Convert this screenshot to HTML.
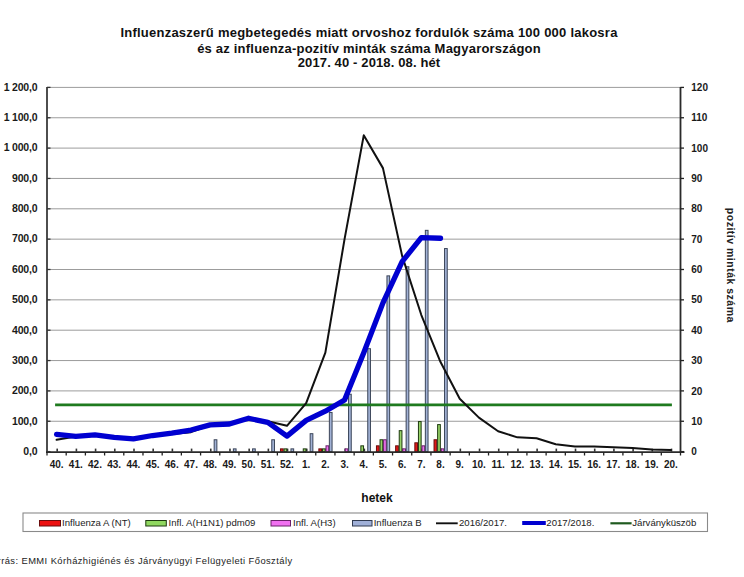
<!DOCTYPE html>
<html><head><meta charset="utf-8"><style>
html,body{margin:0;padding:0;background:#fff;}
body{width:744px;height:577px;overflow:hidden;position:relative;}
#wrap{position:absolute;left:0;top:0;width:744px;height:577px;}
svg{display:block;}
text{font-family:"Liberation Sans",sans-serif;}
.lab{font-size:10px;font-weight:bold;fill:#1a1a1a;}
.ttl{font-size:13px;font-weight:bold;fill:#111;}
.leg{font-size:9.6px;fill:#222;}
</style></head><body>
<div id="wrap"><svg width="744" height="577" viewBox="0 0 744 577">
<text x="369" y="36.9" text-anchor="middle" class="ttl" style="letter-spacing:0.24px">Influenzaszerű megbetegedés miatt orvoshoz fordulók száma 100 000 lakosra</text>
<text x="369" y="52.5" text-anchor="middle" class="ttl" style="letter-spacing:0.21px">és az influenza-pozitív minták száma Magyarországon</text>
<text x="369" y="67.2" text-anchor="middle" class="ttl" style="letter-spacing:0.13px">2017. 40 - 2018. 08. hét</text>
<line x1="47.0" y1="421.25" x2="680.5" y2="421.25" stroke="#9c9c9c" stroke-width="1"/>
<line x1="47.0" y1="390.90" x2="680.5" y2="390.90" stroke="#9c9c9c" stroke-width="1"/>
<line x1="47.0" y1="360.55" x2="680.5" y2="360.55" stroke="#9c9c9c" stroke-width="1"/>
<line x1="47.0" y1="330.20" x2="680.5" y2="330.20" stroke="#9c9c9c" stroke-width="1"/>
<line x1="47.0" y1="299.85" x2="680.5" y2="299.85" stroke="#9c9c9c" stroke-width="1"/>
<line x1="47.0" y1="269.50" x2="680.5" y2="269.50" stroke="#9c9c9c" stroke-width="1"/>
<line x1="47.0" y1="239.15" x2="680.5" y2="239.15" stroke="#9c9c9c" stroke-width="1"/>
<line x1="47.0" y1="208.80" x2="680.5" y2="208.80" stroke="#9c9c9c" stroke-width="1"/>
<line x1="47.0" y1="178.45" x2="680.5" y2="178.45" stroke="#9c9c9c" stroke-width="1"/>
<line x1="47.0" y1="148.10" x2="680.5" y2="148.10" stroke="#9c9c9c" stroke-width="1"/>
<line x1="47.0" y1="117.75" x2="680.5" y2="117.75" stroke="#9c9c9c" stroke-width="1"/>
<line x1="47.0" y1="87.40" x2="680.5" y2="87.40" stroke="#9c9c9c" stroke-width="1"/>
<rect x="56.40" y="448.60" width="1.6" height="3" fill="#333"/>
<rect x="75.60" y="448.60" width="1.6" height="3" fill="#333"/>
<rect x="94.79" y="448.60" width="1.6" height="3" fill="#333"/>
<rect x="113.99" y="448.60" width="1.6" height="3" fill="#333"/>
<rect x="133.19" y="448.60" width="1.6" height="3" fill="#333"/>
<rect x="152.38" y="448.60" width="1.6" height="3" fill="#333"/>
<rect x="171.58" y="448.60" width="1.6" height="3" fill="#333"/>
<rect x="190.78" y="448.60" width="1.6" height="3" fill="#333"/>
<rect x="209.97" y="448.60" width="1.6" height="3" fill="#333"/>
<rect x="229.17" y="448.60" width="1.6" height="3" fill="#333"/>
<rect x="248.37" y="448.60" width="1.6" height="3" fill="#333"/>
<rect x="267.57" y="448.60" width="1.6" height="3" fill="#333"/>
<rect x="286.76" y="448.60" width="1.6" height="3" fill="#333"/>
<rect x="305.96" y="448.60" width="1.6" height="3" fill="#333"/>
<rect x="325.16" y="448.60" width="1.6" height="3" fill="#333"/>
<rect x="344.35" y="448.60" width="1.6" height="3" fill="#333"/>
<rect x="363.55" y="448.60" width="1.6" height="3" fill="#333"/>
<rect x="382.75" y="448.60" width="1.6" height="3" fill="#333"/>
<rect x="401.94" y="448.60" width="1.6" height="3" fill="#333"/>
<rect x="421.14" y="448.60" width="1.6" height="3" fill="#333"/>
<rect x="440.34" y="448.60" width="1.6" height="3" fill="#333"/>
<rect x="459.53" y="448.60" width="1.6" height="3" fill="#333"/>
<rect x="478.73" y="448.60" width="1.6" height="3" fill="#333"/>
<rect x="497.93" y="448.60" width="1.6" height="3" fill="#333"/>
<rect x="517.13" y="448.60" width="1.6" height="3" fill="#333"/>
<rect x="536.32" y="448.60" width="1.6" height="3" fill="#333"/>
<rect x="555.52" y="448.60" width="1.6" height="3" fill="#333"/>
<rect x="574.72" y="448.60" width="1.6" height="3" fill="#333"/>
<rect x="593.91" y="448.60" width="1.6" height="3" fill="#333"/>
<rect x="613.11" y="448.60" width="1.6" height="3" fill="#333"/>
<rect x="632.31" y="448.60" width="1.6" height="3" fill="#333"/>
<rect x="651.50" y="448.60" width="1.6" height="3" fill="#333"/>
<rect x="670.70" y="448.60" width="1.6" height="3" fill="#333"/>
<rect x="280.46" y="448.87" width="2.70" height="2.83" fill="#e01818" stroke="#6a0c0c" stroke-width="1"/>
<rect x="318.86" y="448.87" width="2.70" height="2.83" fill="#e01818" stroke="#6a0c0c" stroke-width="1"/>
<rect x="376.45" y="445.83" width="2.70" height="5.87" fill="#e01818" stroke="#6a0c0c" stroke-width="1"/>
<rect x="395.64" y="445.83" width="2.70" height="5.87" fill="#e01818" stroke="#6a0c0c" stroke-width="1"/>
<rect x="414.84" y="442.80" width="2.70" height="8.90" fill="#e01818" stroke="#6a0c0c" stroke-width="1"/>
<rect x="434.04" y="439.76" width="2.70" height="11.94" fill="#e01818" stroke="#6a0c0c" stroke-width="1"/>
<rect x="284.06" y="448.87" width="2.70" height="2.83" fill="#98d468" stroke="#1e3a10" stroke-width="1"/>
<rect x="303.26" y="448.87" width="2.70" height="2.83" fill="#98d468" stroke="#1e3a10" stroke-width="1"/>
<rect x="322.46" y="448.87" width="2.70" height="2.83" fill="#98d468" stroke="#1e3a10" stroke-width="1"/>
<rect x="360.85" y="445.83" width="2.70" height="5.87" fill="#98d468" stroke="#1e3a10" stroke-width="1"/>
<rect x="380.05" y="439.76" width="2.70" height="11.94" fill="#98d468" stroke="#1e3a10" stroke-width="1"/>
<rect x="399.24" y="430.66" width="2.70" height="21.04" fill="#98d468" stroke="#1e3a10" stroke-width="1"/>
<rect x="418.44" y="421.55" width="2.70" height="30.15" fill="#98d468" stroke="#1e3a10" stroke-width="1"/>
<rect x="437.64" y="424.59" width="2.70" height="27.11" fill="#98d468" stroke="#1e3a10" stroke-width="1"/>
<rect x="326.01" y="445.83" width="2.70" height="5.87" fill="#ee74ee" stroke="#6a206a" stroke-width="1"/>
<rect x="345.20" y="448.87" width="2.70" height="2.83" fill="#ee74ee" stroke="#6a206a" stroke-width="1"/>
<rect x="383.60" y="439.76" width="2.70" height="11.94" fill="#ee74ee" stroke="#6a206a" stroke-width="1"/>
<rect x="402.79" y="448.87" width="2.70" height="2.83" fill="#ee74ee" stroke="#6a206a" stroke-width="1"/>
<rect x="421.99" y="445.83" width="2.70" height="5.87" fill="#ee74ee" stroke="#6a206a" stroke-width="1"/>
<rect x="441.19" y="448.87" width="2.70" height="2.83" fill="#ee74ee" stroke="#6a206a" stroke-width="1"/>
<rect x="214.17" y="439.76" width="2.70" height="11.94" fill="#a2b2d6" stroke="#3a4458" stroke-width="1"/>
<rect x="233.37" y="448.87" width="2.70" height="2.83" fill="#a2b2d6" stroke="#3a4458" stroke-width="1"/>
<rect x="252.57" y="448.87" width="2.70" height="2.83" fill="#a2b2d6" stroke="#3a4458" stroke-width="1"/>
<rect x="271.77" y="439.76" width="2.70" height="11.94" fill="#a2b2d6" stroke="#3a4458" stroke-width="1"/>
<rect x="290.96" y="448.87" width="2.70" height="2.83" fill="#a2b2d6" stroke="#3a4458" stroke-width="1"/>
<rect x="310.16" y="433.69" width="2.70" height="18.01" fill="#a2b2d6" stroke="#3a4458" stroke-width="1"/>
<rect x="329.36" y="412.45" width="2.70" height="39.25" fill="#a2b2d6" stroke="#3a4458" stroke-width="1"/>
<rect x="348.55" y="394.24" width="2.70" height="57.46" fill="#a2b2d6" stroke="#3a4458" stroke-width="1"/>
<rect x="367.75" y="348.71" width="2.70" height="102.99" fill="#a2b2d6" stroke="#3a4458" stroke-width="1"/>
<rect x="386.95" y="275.87" width="2.70" height="175.83" fill="#a2b2d6" stroke="#3a4458" stroke-width="1"/>
<rect x="406.14" y="266.76" width="2.70" height="184.94" fill="#a2b2d6" stroke="#3a4458" stroke-width="1"/>
<rect x="425.34" y="230.34" width="2.70" height="221.35" fill="#a2b2d6" stroke="#3a4458" stroke-width="1"/>
<rect x="444.54" y="248.56" width="2.70" height="203.14" fill="#a2b2d6" stroke="#3a4458" stroke-width="1"/>
<line x1="55.10" y1="404.86" x2="671.90" y2="404.86" stroke="#1f7a1f" stroke-width="2.6"/>
<polyline points="56.60,439.76 75.80,436.43 94.99,434.91 114.19,437.34 133.39,439.46 152.58,435.82 171.78,434.00 190.98,432.18 210.17,425.20 229.37,423.98 248.57,418.82 267.77,421.25 286.96,425.80 306.16,403.04 325.36,352.66 344.55,239.15 363.75,135.35 382.95,168.13 402.14,255.84 421.34,315.02 440.54,362.07 459.73,398.79 478.93,417.61 498.13,431.27 517.33,437.34 536.52,438.25 555.72,444.32 574.92,446.44 594.11,446.44 613.31,447.35 632.51,447.96 651.70,449.48 670.90,450.08" fill="none" stroke="#111" stroke-width="2" stroke-linejoin="round" stroke-linecap="round"/>
<polyline points="56.60,434.30 75.80,436.43 94.99,434.91 114.19,437.34 133.39,438.85 152.58,435.51 171.78,433.09 190.98,430.05 210.17,424.89 229.37,423.98 248.57,418.22 267.77,422.46 286.96,436.12 306.16,420.34 325.36,411.23 344.55,400.00 363.75,352.66 382.95,302.88 402.14,261.61 421.34,237.63 440.54,238.24" fill="none" stroke="#0000d0" stroke-width="5.3" stroke-linejoin="round" stroke-linecap="round"/>
<line x1="47.0" y1="86.9" x2="47.0" y2="452.6" stroke="#3a3a3a" stroke-width="1.8"/>
<line x1="680.5" y1="86.9" x2="680.5" y2="452.6" stroke="#2a2a2a" stroke-width="1.8"/>
<line x1="46.0" y1="452.2" x2="684.5" y2="452.2" stroke="#2a2a2a" stroke-width="1.7"/>
<line x1="47.0" y1="451.60" x2="50.5" y2="451.60" stroke="#333" stroke-width="1.3"/>
<line x1="680.5" y1="451.60" x2="684.0" y2="451.60" stroke="#222" stroke-width="1.3"/>
<line x1="47.0" y1="421.25" x2="50.5" y2="421.25" stroke="#333" stroke-width="1.3"/>
<line x1="680.5" y1="421.25" x2="684.0" y2="421.25" stroke="#222" stroke-width="1.3"/>
<line x1="47.0" y1="390.90" x2="50.5" y2="390.90" stroke="#333" stroke-width="1.3"/>
<line x1="680.5" y1="390.90" x2="684.0" y2="390.90" stroke="#222" stroke-width="1.3"/>
<line x1="47.0" y1="360.55" x2="50.5" y2="360.55" stroke="#333" stroke-width="1.3"/>
<line x1="680.5" y1="360.55" x2="684.0" y2="360.55" stroke="#222" stroke-width="1.3"/>
<line x1="47.0" y1="330.20" x2="50.5" y2="330.20" stroke="#333" stroke-width="1.3"/>
<line x1="680.5" y1="330.20" x2="684.0" y2="330.20" stroke="#222" stroke-width="1.3"/>
<line x1="47.0" y1="299.85" x2="50.5" y2="299.85" stroke="#333" stroke-width="1.3"/>
<line x1="680.5" y1="299.85" x2="684.0" y2="299.85" stroke="#222" stroke-width="1.3"/>
<line x1="47.0" y1="269.50" x2="50.5" y2="269.50" stroke="#333" stroke-width="1.3"/>
<line x1="680.5" y1="269.50" x2="684.0" y2="269.50" stroke="#222" stroke-width="1.3"/>
<line x1="47.0" y1="239.15" x2="50.5" y2="239.15" stroke="#333" stroke-width="1.3"/>
<line x1="680.5" y1="239.15" x2="684.0" y2="239.15" stroke="#222" stroke-width="1.3"/>
<line x1="47.0" y1="208.80" x2="50.5" y2="208.80" stroke="#333" stroke-width="1.3"/>
<line x1="680.5" y1="208.80" x2="684.0" y2="208.80" stroke="#222" stroke-width="1.3"/>
<line x1="47.0" y1="178.45" x2="50.5" y2="178.45" stroke="#333" stroke-width="1.3"/>
<line x1="680.5" y1="178.45" x2="684.0" y2="178.45" stroke="#222" stroke-width="1.3"/>
<line x1="47.0" y1="148.10" x2="50.5" y2="148.10" stroke="#333" stroke-width="1.3"/>
<line x1="680.5" y1="148.10" x2="684.0" y2="148.10" stroke="#222" stroke-width="1.3"/>
<line x1="47.0" y1="117.75" x2="50.5" y2="117.75" stroke="#333" stroke-width="1.3"/>
<line x1="680.5" y1="117.75" x2="684.0" y2="117.75" stroke="#222" stroke-width="1.3"/>
<line x1="47.0" y1="87.40" x2="50.5" y2="87.40" stroke="#333" stroke-width="1.3"/>
<line x1="680.5" y1="87.40" x2="684.0" y2="87.40" stroke="#222" stroke-width="1.3"/>
<line x1="47.00" y1="452.2" x2="47.00" y2="455.5" stroke="#222" stroke-width="1.3"/>
<line x1="66.20" y1="452.2" x2="66.20" y2="455.5" stroke="#222" stroke-width="1.3"/>
<line x1="85.39" y1="452.2" x2="85.39" y2="455.5" stroke="#222" stroke-width="1.3"/>
<line x1="104.59" y1="452.2" x2="104.59" y2="455.5" stroke="#222" stroke-width="1.3"/>
<line x1="123.79" y1="452.2" x2="123.79" y2="455.5" stroke="#222" stroke-width="1.3"/>
<line x1="142.98" y1="452.2" x2="142.98" y2="455.5" stroke="#222" stroke-width="1.3"/>
<line x1="162.18" y1="452.2" x2="162.18" y2="455.5" stroke="#222" stroke-width="1.3"/>
<line x1="181.38" y1="452.2" x2="181.38" y2="455.5" stroke="#222" stroke-width="1.3"/>
<line x1="200.58" y1="452.2" x2="200.58" y2="455.5" stroke="#222" stroke-width="1.3"/>
<line x1="219.77" y1="452.2" x2="219.77" y2="455.5" stroke="#222" stroke-width="1.3"/>
<line x1="238.97" y1="452.2" x2="238.97" y2="455.5" stroke="#222" stroke-width="1.3"/>
<line x1="258.17" y1="452.2" x2="258.17" y2="455.5" stroke="#222" stroke-width="1.3"/>
<line x1="277.36" y1="452.2" x2="277.36" y2="455.5" stroke="#222" stroke-width="1.3"/>
<line x1="296.56" y1="452.2" x2="296.56" y2="455.5" stroke="#222" stroke-width="1.3"/>
<line x1="315.76" y1="452.2" x2="315.76" y2="455.5" stroke="#222" stroke-width="1.3"/>
<line x1="334.95" y1="452.2" x2="334.95" y2="455.5" stroke="#222" stroke-width="1.3"/>
<line x1="354.15" y1="452.2" x2="354.15" y2="455.5" stroke="#222" stroke-width="1.3"/>
<line x1="373.35" y1="452.2" x2="373.35" y2="455.5" stroke="#222" stroke-width="1.3"/>
<line x1="392.55" y1="452.2" x2="392.55" y2="455.5" stroke="#222" stroke-width="1.3"/>
<line x1="411.74" y1="452.2" x2="411.74" y2="455.5" stroke="#222" stroke-width="1.3"/>
<line x1="430.94" y1="452.2" x2="430.94" y2="455.5" stroke="#222" stroke-width="1.3"/>
<line x1="450.14" y1="452.2" x2="450.14" y2="455.5" stroke="#222" stroke-width="1.3"/>
<line x1="469.33" y1="452.2" x2="469.33" y2="455.5" stroke="#222" stroke-width="1.3"/>
<line x1="488.53" y1="452.2" x2="488.53" y2="455.5" stroke="#222" stroke-width="1.3"/>
<line x1="507.73" y1="452.2" x2="507.73" y2="455.5" stroke="#222" stroke-width="1.3"/>
<line x1="526.92" y1="452.2" x2="526.92" y2="455.5" stroke="#222" stroke-width="1.3"/>
<line x1="546.12" y1="452.2" x2="546.12" y2="455.5" stroke="#222" stroke-width="1.3"/>
<line x1="565.32" y1="452.2" x2="565.32" y2="455.5" stroke="#222" stroke-width="1.3"/>
<line x1="584.52" y1="452.2" x2="584.52" y2="455.5" stroke="#222" stroke-width="1.3"/>
<line x1="603.71" y1="452.2" x2="603.71" y2="455.5" stroke="#222" stroke-width="1.3"/>
<line x1="622.91" y1="452.2" x2="622.91" y2="455.5" stroke="#222" stroke-width="1.3"/>
<line x1="642.11" y1="452.2" x2="642.11" y2="455.5" stroke="#222" stroke-width="1.3"/>
<line x1="661.30" y1="452.2" x2="661.30" y2="455.5" stroke="#222" stroke-width="1.3"/>
<line x1="680.50" y1="452.2" x2="680.50" y2="455.5" stroke="#222" stroke-width="1.3"/>
<text x="37.3" y="454.90" text-anchor="end" class="lab" style="font-size:10.5px;letter-spacing:-0.2px">0,0</text>
<text x="37.3" y="424.55" text-anchor="end" class="lab" style="font-size:10.5px;letter-spacing:-0.2px">100,0</text>
<text x="37.3" y="394.20" text-anchor="end" class="lab" style="font-size:10.5px;letter-spacing:-0.2px">200,0</text>
<text x="37.3" y="363.85" text-anchor="end" class="lab" style="font-size:10.5px;letter-spacing:-0.2px">300,0</text>
<text x="37.3" y="333.50" text-anchor="end" class="lab" style="font-size:10.5px;letter-spacing:-0.2px">400,0</text>
<text x="37.3" y="303.15" text-anchor="end" class="lab" style="font-size:10.5px;letter-spacing:-0.2px">500,0</text>
<text x="37.3" y="272.80" text-anchor="end" class="lab" style="font-size:10.5px;letter-spacing:-0.2px">600,0</text>
<text x="37.3" y="242.45" text-anchor="end" class="lab" style="font-size:10.5px;letter-spacing:-0.2px">700,0</text>
<text x="37.3" y="212.10" text-anchor="end" class="lab" style="font-size:10.5px;letter-spacing:-0.2px">800,0</text>
<text x="37.3" y="181.75" text-anchor="end" class="lab" style="font-size:10.5px;letter-spacing:-0.2px">900,0</text>
<text x="37.3" y="151.40" text-anchor="end" class="lab" style="font-size:10.5px;letter-spacing:-0.2px">1 000,0</text>
<text x="37.3" y="121.05" text-anchor="end" class="lab" style="font-size:10.5px;letter-spacing:-0.2px">1 100,0</text>
<text x="37.3" y="90.70" text-anchor="end" class="lab" style="font-size:10.5px;letter-spacing:-0.2px">1 200,0</text>
<text x="691.3" y="455.20" class="lab" style="font-size:10px">0</text>
<text x="691.3" y="424.85" class="lab" style="font-size:10px">10</text>
<text x="691.3" y="394.50" class="lab" style="font-size:10px">20</text>
<text x="691.3" y="364.15" class="lab" style="font-size:10px">30</text>
<text x="691.3" y="333.80" class="lab" style="font-size:10px">40</text>
<text x="691.3" y="303.45" class="lab" style="font-size:10px">50</text>
<text x="691.3" y="273.10" class="lab" style="font-size:10px">60</text>
<text x="691.3" y="242.75" class="lab" style="font-size:10px">70</text>
<text x="691.3" y="212.40" class="lab" style="font-size:10px">80</text>
<text x="691.3" y="182.05" class="lab" style="font-size:10px">90</text>
<text x="691.3" y="151.70" class="lab" style="font-size:10px">100</text>
<text x="691.3" y="121.35" class="lab" style="font-size:10px">110</text>
<text x="691.3" y="91.00" class="lab" style="font-size:10px">120</text>
<text x="56.60" y="468.3" text-anchor="middle" class="lab">40.</text>
<text x="75.80" y="468.3" text-anchor="middle" class="lab">41.</text>
<text x="94.99" y="468.3" text-anchor="middle" class="lab">42.</text>
<text x="114.19" y="468.3" text-anchor="middle" class="lab">43.</text>
<text x="133.39" y="468.3" text-anchor="middle" class="lab">44.</text>
<text x="152.58" y="468.3" text-anchor="middle" class="lab">45.</text>
<text x="171.78" y="468.3" text-anchor="middle" class="lab">46.</text>
<text x="190.98" y="468.3" text-anchor="middle" class="lab">47.</text>
<text x="210.17" y="468.3" text-anchor="middle" class="lab">48.</text>
<text x="229.37" y="468.3" text-anchor="middle" class="lab">49.</text>
<text x="248.57" y="468.3" text-anchor="middle" class="lab">50.</text>
<text x="267.77" y="468.3" text-anchor="middle" class="lab">51.</text>
<text x="286.96" y="468.3" text-anchor="middle" class="lab">52.</text>
<text x="306.16" y="468.3" text-anchor="middle" class="lab">1.</text>
<text x="325.36" y="468.3" text-anchor="middle" class="lab">2.</text>
<text x="344.55" y="468.3" text-anchor="middle" class="lab">3.</text>
<text x="363.75" y="468.3" text-anchor="middle" class="lab">4.</text>
<text x="382.95" y="468.3" text-anchor="middle" class="lab">5.</text>
<text x="402.14" y="468.3" text-anchor="middle" class="lab">6.</text>
<text x="421.34" y="468.3" text-anchor="middle" class="lab">7.</text>
<text x="440.54" y="468.3" text-anchor="middle" class="lab">8.</text>
<text x="459.73" y="468.3" text-anchor="middle" class="lab">9.</text>
<text x="478.93" y="468.3" text-anchor="middle" class="lab">10.</text>
<text x="498.13" y="468.3" text-anchor="middle" class="lab">11.</text>
<text x="517.33" y="468.3" text-anchor="middle" class="lab">12.</text>
<text x="536.52" y="468.3" text-anchor="middle" class="lab">13.</text>
<text x="555.72" y="468.3" text-anchor="middle" class="lab">14.</text>
<text x="574.92" y="468.3" text-anchor="middle" class="lab">15.</text>
<text x="594.11" y="468.3" text-anchor="middle" class="lab">16.</text>
<text x="613.31" y="468.3" text-anchor="middle" class="lab">17.</text>
<text x="632.51" y="468.3" text-anchor="middle" class="lab">18.</text>
<text x="651.70" y="468.3" text-anchor="middle" class="lab">19.</text>
<text x="670.90" y="468.3" text-anchor="middle" class="lab">20.</text>
<text x="377" y="501.5" text-anchor="middle" style="font-size:12px;font-weight:bold;fill:#111">hetek</text>
<text transform="translate(726.7,207.8) rotate(90)" style="font-size:10.5px;font-weight:bold;letter-spacing:0.5px;fill:#222">pozitív minták száma</text>
<rect x="23" y="513" width="684.5" height="18.5" fill="#fff" stroke="#8a8a8a" stroke-width="1.1"/>
<rect x="39.5" y="520.5" width="21" height="5.5" fill="#ec1010" stroke="#6a0c0c" stroke-width="1"/>
<text x="62" y="526.3" class="leg">Influenza A (NT)</text>
<rect x="145.8" y="520.5" width="20.5" height="5.5" fill="#90d860" stroke="#1e3a10" stroke-width="1"/>
<text x="168.5" y="526.3" class="leg">Infl. A(H1N1) pdm09</text>
<rect x="271" y="520.5" width="19.5" height="5.5" fill="#f070f0" stroke="#6a206a" stroke-width="1"/>
<text x="293" y="526.3" class="leg">Infl. A(H3)</text>
<rect x="352.5" y="520.5" width="19.5" height="5.5" fill="#a0b0d8" stroke="#303a50" stroke-width="1"/>
<text x="373.7" y="526.3" class="leg">Influenza B</text>
<line x1="436" y1="523.3" x2="457.7" y2="523.3" stroke="#111" stroke-width="1.9"/>
<text x="459" y="526.3" class="leg">2016/2017.</text>
<line x1="522.2" y1="523" x2="545.8" y2="523" stroke="#0000d0" stroke-width="4"/>
<text x="546.3" y="526.3" class="leg">2017/2018.</text>
<line x1="610.4" y1="523.3" x2="631.6" y2="523.3" stroke="#1f5a1f" stroke-width="2.2"/>
<text x="632.3" y="526.3" class="leg">Járványküszöb</text>
<text x="-14.2" y="563.9" style="font-size:9.4px;letter-spacing:0.42px;fill:#222">Forrás: EMMI Kórházhigiénés és Járványügyi Felügyeleti Főosztály</text>
</svg></div>
</body></html>
